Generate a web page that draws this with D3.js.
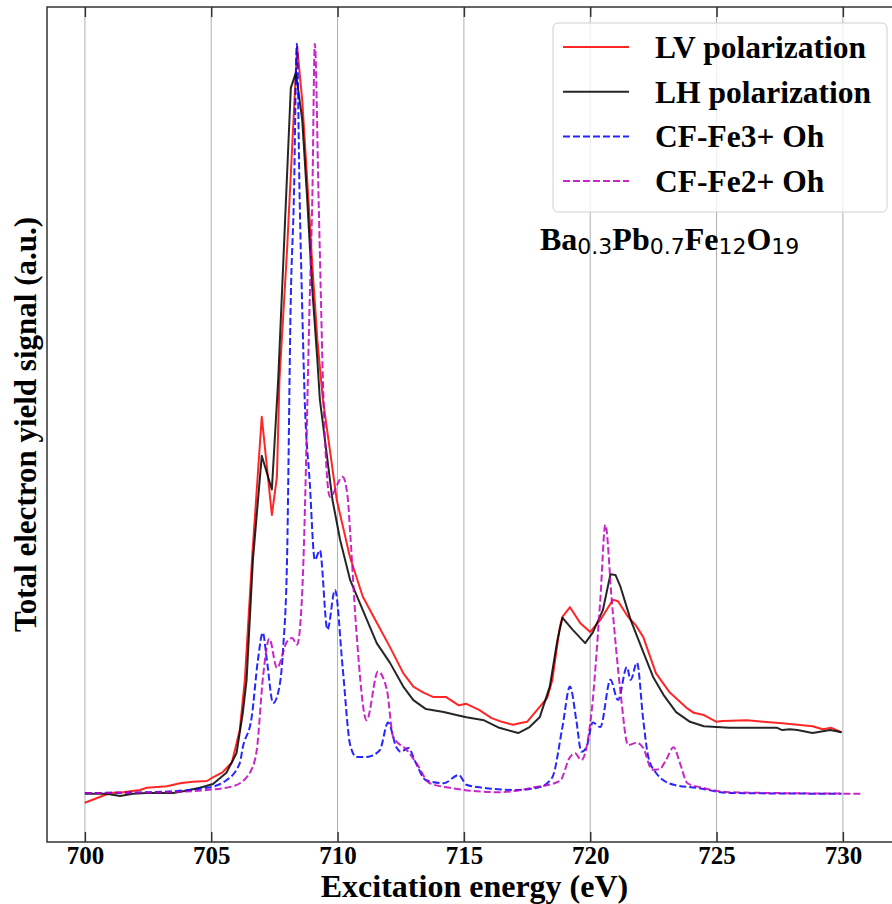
<!DOCTYPE html>
<html>
<head>
<style>
body { margin: 0; background: #fff; }
text { font-family: "Liberation Serif", "Times New Roman", serif; font-weight: bold; fill: #000; }
.grid line { stroke: #b0b0b0; stroke-width: 1; }
</style>
</head>
<body>
<svg id="chart" width="892" height="904"></svg>

<script src="https://d3js.org/d3.v7.min.js"></script>
<script>

// energy (eV), signal (a.u.)
let lvData = [[700.0,-1.3],[700.46,-0.7],[700.99,0],[701.5,0.1],[702.18,0.4],[702.45,0.7],[702.85,0.8],[703.25,0.9],
  [703.76,1.3],[704.27,1.5],[704.83,1.6],[705.07,2.1],[705.46,2.8],[705.82,4.1],[706.13,8.4],[706.33,15.1],[706.62,31.5],
  [707.0,50.2],[707.4,37.1],[707.6,42.2],[707.7,55.1],[708.0,72.4],[708.4,99.6],[708.6,92.5],[708.8,81.8],[709.0,70.5],
  [709.2,60.5],[709.42,52.5],[709.97,39.1],[710.49,31.5],[711.0,26.2],[711.56,22.7],[712.07,19.5],[712.6,16.0],[713.0,14.2],
  [713.4,13.4],[713.8,12.8],[714.3,12.8],[714.8,11.7],[715.1,11.9],[715.6,11.1],[716.1,10.0],[716.5,9.5],[716.95,9.1],
  [717.2,9.3],[717.5,9.5],[717.9,11.1],[718.3,12.7],[718.5,15.1],[718.8,22.2],[718.9,23.5],[719.2,24.8],[719.6,22.7],
  [720.0,21.5],[720.4,23.1],[720.9,25.8],[721.1,25.6],[721.5,23.5],[721.8,22.4],[722.1,20.8],[722.6,16.0],[723.15,13.4],
  [723.8,11.4],[724.1,10.7],[724.5,10.4],[725.0,9.5],[725.25,9.6],[726.2,9.7],[726.85,9.5],[727.6,9.3],[728.2,9.1],
  [728.8,8.9],[729.2,8.5],[729.55,8.7],[729.95,8.1]];

let lhData = [[700.0,-0.1],[700.86,-0.1],[701.39,-0.4],[701.9,-0.1],[702.45,0],[703.5,0],[704.0,0.3],[704.55,0.7],
  [705.07,1.2],[705.6,2.7],[706.0,5.3],[706.25,10.7],[706.4,15.1],[706.65,31.1],[707.0,45.0],[707.4,40.5],[707.65,55.1],
  [708.15,94.1],[708.35,96.1],[708.6,89.9],[708.8,79.2],[709.0,67.2],[709.2,57.8],[709.3,52.5],[709.8,39.1],[710.1,33.8],
  [710.5,28.4],[711.0,24.4],[711.55,20.0],[712.07,17.4],[712.6,14.2],[713.0,12.4],[713.5,11.2],[714.2,10.8],[714.7,10.4],
  [715.1,10.1],[715.8,9.7],[716.4,8.7],[717.15,8.0],[717.6,8.8],[718.0,10.1],[718.4,14.2],[718.7,20.4],[718.9,23.4],
  [719.3,21.8],[719.8,20.0],[720.1,21.4],[720.5,24.4],[720.8,29.2],[721.0,29.1],[721.2,27.5],[721.6,23.1],[721.96,20.0],
  [722.5,15.4],[722.9,13.1],[723.4,10.8],[723.95,9.5],[724.5,8.9],[725.0,8.8],[725.5,8.7],[726.2,8.7],[727.4,8.7],
  [727.6,8.4],[727.9,8.5],[728.2,8.4],[728.8,8.0],[729.5,8.4],[729.95,8.1]];

let fe3Data = [[700.0,0],[702.5,0.1],[704.83,0.7],[705.6,1.7],[706.13,4.0],[706.25,6.1],[706.6,10.1],[706.85,17.8],
  [707.04,21.4],[707.2,17.8],[707.45,12.0],[707.65,13.4],[707.85,19.5],[708.0,31.1],[708.15,66.2],[708.27,79.2],
  [708.39,100],[708.5,79.2],[708.59,66.2],[708.7,52.5],[708.9,41.4],[709.1,31.1],[709.3,32.4],[709.6,21.8],[709.9,27.1],
  [710.2,16.8],[710.5,6.4],[710.75,4.8],[711.15,4.8],[711.67,5.7],[712.0,9.4],[712.33,6.1],[712.5,5.5],[712.8,6.0],
  [713.1,4.0],[713.5,1.7],[714.2,1.3],[714.8,2.4],[715.1,1.1],[715.75,0.7],[717.1,0.4],[718.0,0.8],[718.5,2.1],
  [718.9,8.8],[719.2,14.2],[719.45,9.7],[719.65,5.5],[719.85,6.1],[720.1,9.4],[720.4,8.8],[720.8,15.1],[721.1,12.4],
  [721.45,16.8],[721.6,15.1],[721.85,17.4],[722.1,9.7],[722.3,4.8],[722.6,2.7],[723.3,1.1],[724.2,0.7],[725.5,0],
  [729.95,-0.1]];

let fe2Data = [[700.0,0],[703.0,0.1],[704.83,0.4],[705.86,0.9],[706.4,2.1],[706.53,2.7],[706.8,5.7],[707.05,15.5],
  [707.3,20.6],[707.6,16.7],[708.0,20.2],[708.2,20.7],[708.4,19.8],[708.6,26.7],[708.65,31.1],[708.9,66.2],[709.0,79.2],
  [709.1,100],[709.25,79.2],[709.34,66.2],[709.42,55.1],[709.7,39.5],[710.2,42.2],[710.4,39.5],[710.5,34.7],[710.75,21.4],
  [711.15,9.7],[711.6,16.2],[711.95,13.8],[712.2,7.5],[712.75,5.7],[713.1,4.1],[713.65,1.3],[714.45,0.7],[716.4,0.1],
  [717.7,0.7],[718.8,1.6],[719.2,4.8],[719.4,5.3],[719.65,4.4],[720.05,10.7],[720.4,25.8],[720.6,35.8],[720.85,25.8],
  [721.2,13.4],[721.5,6.4],[721.85,6.7],[722.1,6.0],[722.45,3.1],[722.75,3.2],[723.0,4.4],[723.3,6.1],[723.55,4.0],
  [723.85,1.3],[724.45,0.7],[725.5,0.1],[730.8,-0.1]];

let xTicks = [700, 705, 710, 715, 720, 725, 730];

let series = [
  { name: "LV polarization", data: lvData,  color: "#ff0000", dash: null,  smooth: false },
  { name: "LH polarization", data: lhData,  color: "#000000", dash: null,  smooth: false },
  { name: "CF-Fe3+ Oh",      data: fe3Data, color: "#0000ff", dash: "7,3", smooth: true },
  { name: "CF-Fe2+ Oh",      data: fe2Data, color: "#bf00bf", dash: "7,3", smooth: true }
];

let plotLeft = 47, plotRight = 902, plotTop = 7, plotBottom = 842;

let x = d3.scaleLinear().domain([698.5, 732.34]).range([plotLeft, plotRight]);
let y = d3.scaleLinear().domain([-6.54, 104.9]).range([plotBottom, plotTop]);

let svg = d3.select('#chart');

svg.append('defs').append('clipPath').attr('id', 'plotclip')
  .append('rect').attr('x', plotLeft).attr('y', plotTop)
  .attr('width', plotRight - plotLeft).attr('height', plotBottom - plotTop);

// vertical grid
svg.append('g').attr('class', 'grid')
  .selectAll('line').data(xTicks).join('line')
  .attr('x1', d => x(d)).attr('x2', d => x(d))
  .attr('y1', plotTop).attr('y2', plotBottom);

// curves
let plot = svg.append('g').attr('clip-path', 'url(#plotclip)');
series.forEach(function(s) {
  let line = d3.line()
    .x(d => x(d[0]))
    .y(d => y(d[1]))
    .curve(s.smooth ? d3.curveMonotoneX : d3.curveLinear);
  plot.append('path')
    .datum(s.data)
    .attr('fill', 'none')
    .attr('stroke', s.color)
    .attr('stroke-width', 2)
    .attr('stroke-opacity', 0.85)
    .attr('stroke-dasharray', s.dash)
    .attr('stroke-linejoin', 'round')
    .attr('d', line);
});

// axes, ticks pointing inward
let bottomAxis = d3.axisBottom(x).tickValues(xTicks).tickSizeInner(-10).tickSizeOuter(0).tickPadding(4);
let gx = svg.append('g').attr('transform', 'translate(0,' + plotBottom + ')').call(bottomAxis)
  .attr('font-family', 'Liberation Serif')
  .attr('font-size', 25)
  .attr('font-weight', 'bold');
gx.select('.domain').remove();
gx.selectAll('.tick line').attr('stroke', '#333').attr('stroke-width', 1.5);
gx.selectAll('.tick text')
  .style('font-family', 'Liberation Serif')
  .style('font-size', '25px')
  .style('font-weight', 'bold');

let topAxis = d3.axisTop(x).tickValues(xTicks).tickSizeInner(-10).tickSizeOuter(0).tickFormat('');
let gt = svg.append('g').attr('transform', 'translate(0,' + plotTop + ')').call(topAxis);
gt.select('.domain').remove();
gt.selectAll('.tick line').attr('stroke', '#333').attr('stroke-width', 1.5);

// frame
svg.append('rect')
  .attr('x', plotLeft).attr('y', plotTop)
  .attr('width', plotRight - plotLeft).attr('height', plotBottom - plotTop)
  .attr('fill', 'none').attr('stroke', '#333').attr('stroke-width', 1.5);

// axis labels
svg.append('text')
  .attr('x', (plotLeft + plotRight) / 2).attr('y', 897)
  .attr('text-anchor', 'middle')
  .style('font-size', '32px')
  .text('Excitation energy (eV)');

svg.append('text')
  .attr('transform', 'rotate(-90)')
  .attr('x', -(plotTop + plotBottom) / 2).attr('y', 36)
  .attr('text-anchor', 'middle')
  .style('font-size', '31px')
  .text('Total electron yield signal (a.u.)');

// legend
let legend = svg.append('g');
legend.append('rect')
  .attr('x', 553).attr('y', 23).attr('width', 334).attr('height', 189)
  .attr('rx', 5).attr('fill', '#fff').attr('fill-opacity', 0.8)
  .attr('stroke', '#d0d0d0').attr('stroke-width', 1);

let rows = legend.selectAll('g.row').data(series).join('g')
  .attr('class', 'row')
  .attr('transform', (d, i) => 'translate(0,' + (47 + i * 44.7) + ')');
rows.append('line')
  .attr('x1', 563).attr('x2', 629).attr('y1', 0).attr('y2', 0)
  .attr('stroke', d => d.color).attr('stroke-width', 2).attr('stroke-opacity', 0.85)
  .attr('stroke-dasharray', d => d.dash);
rows.append('text')
  .attr('x', 655).attr('y', 11)
  .style('font-size', '31.5px')
  .text(d => d.name);

// composition label
let formula = svg.append('text').attr('x', 540).attr('y', 250).style('font-size', '32px');
let parts = [['Ba', '0.3'], ['Pb', '0.7'], ['Fe', '12'], ['O', '19']];
parts.forEach(function(p, i) {
  formula.append('tspan').attr('dy', i === 0 ? 0 : -4).text(p[0]);
  formula.append('tspan')
    .attr('dy', 4)
    .style('font-family', '"DejaVu Sans", sans-serif')
    .style('font-weight', 'normal')
    .style('font-size', '22px')
    .text(p[1]);
});

</script>
</body>
</html>
